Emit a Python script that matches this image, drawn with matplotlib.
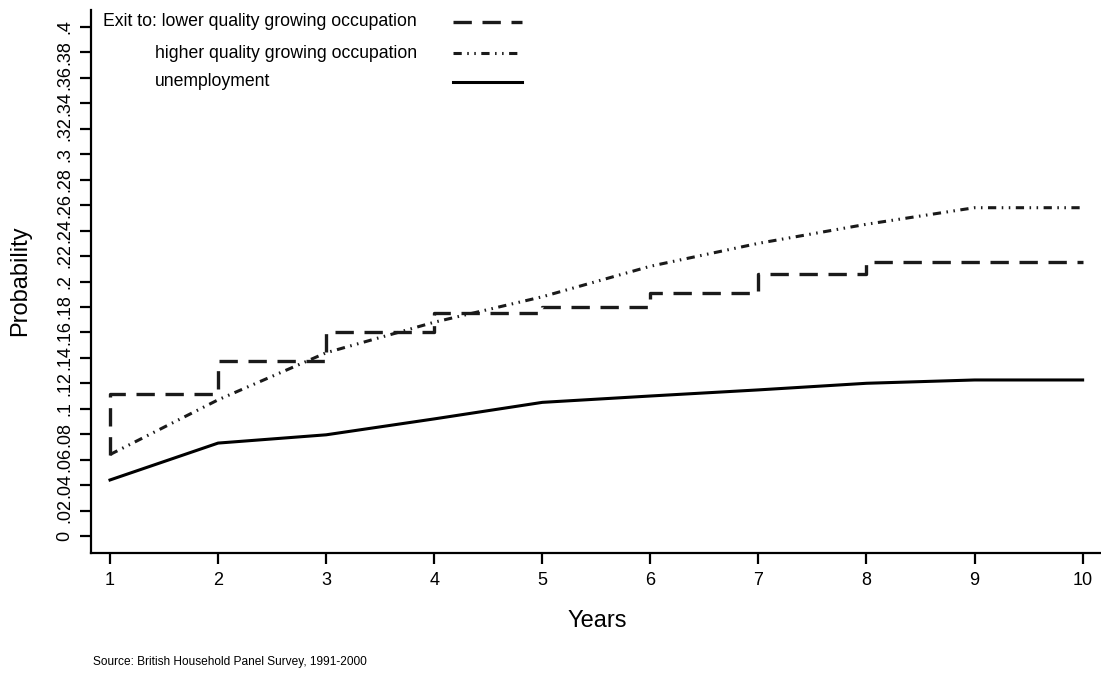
import matplotlib
matplotlib.use("Agg")
import matplotlib.pyplot as plt
from matplotlib.lines import Line2D

plt.rcParams['font.family'] = ['Liberation Sans', 'DejaVu Sans']

# Years since entry
years = [1, 2, 3, 4, 5, 6, 7, 8, 9, 10]

# Exit to lower quality growing occupation (step function, starts at .064 at year 1)
lower_x = [1, 1, 2, 3, 4, 5, 6, 7, 8, 9, 10]
lower_y = [0.064, 0.1115, 0.1375, 0.1605, 0.1755, 0.180, 0.191, 0.206, 0.2155, 0.2155, 0.2155]

# Exit to higher quality growing occupation
higher_y = [0.064, 0.107, 0.144, 0.168, 0.188, 0.212, 0.230, 0.245, 0.258, 0.258]

# Exit to unemployment
unemp_y = [0.044, 0.073, 0.0795, 0.092, 0.105, 0.110, 0.1148, 0.120, 0.1226, 0.1226]

y_ticks = [0, .02, .04, .06, .08, .1, .12, .14, .16, .18, .2,
           .22, .24, .26, .28, .3, .32, .34, .36, .38, .4]
y_labels = ["0", ".02", ".04", ".06", ".08", ".1", ".12", ".14", ".16", ".18", ".2",
            ".22", ".24", ".26", ".28", ".3", ".32", ".34", ".36", ".38", ".4"]

legend_labels = ["Exit to: lower quality growing occupation",
                 "higher quality growing occupation",
                 "unemployment"]

col = "#1a1a1a"
dash_style = (0, (5.5, 3.2))
dashdotdot = (0, (2.7, 1.8, 0.5, 1.8, 0.5, 1.8))

fig = plt.figure(figsize=(11.01, 6.75), dpi=100)
ax = fig.add_axes([91 / 1101, (675 - 553) / 675, 1 - 91 / 1101, 543 / 675])

ax.plot(lower_x, lower_y, drawstyle="steps-post", color=col, lw=2.4, linestyle=dash_style)
ax.plot(years, higher_y, color=col, lw=2.2, linestyle=dashdotdot)
ax.plot(years, unemp_y, color="black", lw=2.2)

ax.set_xlim(0.824, 10.17)
ax.set_ylim(-0.0134, 0.4134)
ax.set_xticks(years)
ax.set_xticklabels([str(y) for y in years])
ax.set_yticks(y_ticks)
ax.set_yticklabels(y_labels, rotation=90, va="center", ha="right")

for s in ["top", "right"]:
    ax.spines[s].set_visible(False)
for s in ["left", "bottom"]:
    ax.spines[s].set_linewidth(1.6)
ax.tick_params(axis="both", length=8, width=1.6, labelsize=13)
ax.tick_params(axis="y", pad=5)
ax.tick_params(axis="x", pad=6)

fig.text(20 / 1101, 1 - 281 / 675, "Probability", rotation=90, ha="center", va="center", fontsize=17)
fig.text(597 / 1101, 1 - 621 / 675, "Years", ha="center", va="center", fontsize=17)
fig.text(93 / 1101, 1 - 662 / 675, "Source: British Household Panel Survey, 1991-2000",
         ha="left", va="center", fontsize=8.6)

# legend drawn by hand to mimic the "Exit to:" layout
leg_styles = [(dash_style, 2.4, col), (dashdotdot, 2.2, col), ("-", 2.2, "black")]
leg_pos = [(103, 22), (155, 53), (155, 82)]
for (lx, ly), lab, (ls, lw, c) in zip(leg_pos, legend_labels, leg_styles):
    fig.text(lx / 1101, 1 - ly / 675, lab, ha="left", va="center", fontsize=12.7)
    fig.add_artist(Line2D([453 / 1101, 522 / 1101], [1 - ly / 675, 1 - ly / 675],
                          transform=fig.transFigure, color=c, lw=lw, linestyle=ls))

fig.savefig("out.png", dpi=100, facecolor="white")
